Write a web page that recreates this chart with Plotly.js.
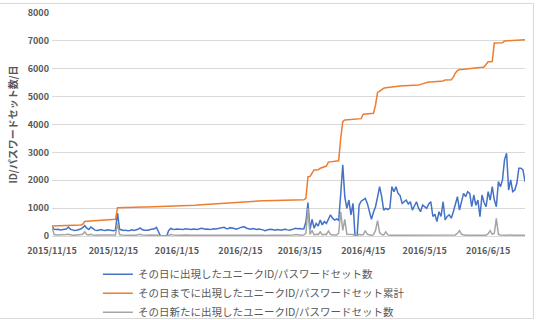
<!DOCTYPE html>
<html>
<head>
<meta charset="utf-8">
<script src="https://cdn.plot.ly/plotly-3.0.1.min.js"></script>
<style>
html,body{margin:0;padding:0;background:#fff;}
#chart{width:536px;height:320px;}
</style>
</head>
<body>
<div id="chart"></div>
<script>
// first day of the daily series and number of days
const startDate = "2015-11-15";
const seriesNames = [
  "その日に出現したユニークID/パスワードセット数",
  "その日までに出現したユニークID/パスワードセット累計",
  "その日新たに出現したユニークID/パスワードセット数"
];
const tickDates = ["2015-11-15","2015-12-15","2016-01-15","2016-02-15","2016-03-15","2016-04-15","2016-05-15","2016-06-15"];
const tickLabels = ["2015/11/15","2015/12/15","2016/1/15","2016/2/15","2016/3/15","2016/4/15","2016/5/15","2016/6/15"];
const yTicks = [0,1000,2000,3000,4000,5000,6000,7000,8000];

// daily unique ID/password sets (blue)
const dailyUnique = [
 360,240,230,240,220,230,240,250,320,240,220,200,210,230,250,300,370,280,230,320,250,210,200,220,230,210,200,220,210,200,190,210,820,
 240,220,200,210,190,200,220,200,210,240,290,230,210,200,210,230,240,260,310,180,0,0,0,0,200,270,240,230,250,240,220,230,260,250,240,230,250,240,230,260,280,260,240,250,230,240,260,250,270,280,300,310,270,260,300,290,270,240,280,300,320,330,280,260,240,270,260,230,250,240,220,190,220,230,240,220,210,230,220,210,230,240,220,210,230,260,280,260,
 270,250,260,500,1200,230,600,280,450,360,570,400,520,450,600,760,640,570,610,560,1500,2550,1400,990,1290,760,1170,0,0,1110,1250,1290,1350,1170,820,600,850,1050,1400,1770,1410,930,990,950,1000,1770,1590,1770,1530,1450,1170,1230,1290,1150,1230,930,1100,1230,1000,870,1110,1050,990,1150,1230,700,780,515,870,700,1230,575,700,755,640,870,1100,1410,930,1200,1530,1410,1590,1530,1050,1470,1100,1290,690,1470,1200,1050,1590,1290,1770,1300,1050,1950,1770,2010,2730,2970,1650,2010,1590,1650,1890,2430,2430,2370,1950
];
// cumulative unique ID/password sets (orange)
const cumulative = [
 360,362,365,368,370,372,375,378,380,383,386,388,390,393,396,420,520,525,530,535,540,545,550,555,560,565,570,575,580,585,590,600,1015,
 1015,1018,1020,1022,1024,1026,1028,1030,1032,1034,1036,1038,1040,1042,1044,1046,1048,1050,1052,1054,1054,1054,1054,1054,1056,1058,1060,1062,1065,1068,1072,1076,1080,1085,1090,1095,1100,1105,1110,1115,1120,1125,1130,1135,1140,1145,1150,1155,1160,1165,1170,1180,1190,1200,1210,1215,1220,1225,1230,1235,1240,1245,1248,1250,1252,1254,1256,1258,1260,1262,1264,1266,1268,1270,1272,1274,1276,1278,1280,1282,1284,1285,1286,1287,1288,1289,1290,1290,
 1290,1295,1300,1350,2130,2135,2250,2370,2372,2375,2430,2466,2480,2510,2650,2655,2660,2665,2670,2700,3500,4100,4160,4165,4170,4175,4180,4185,4190,4200,4210,4370,4375,4380,4385,4390,4400,4700,5150,5200,5260,5300,5320,5330,5340,5350,5360,5380,5382,5384,5386,5388,5390,5392,5394,5396,5400,5410,5420,5440,5460,5480,5520,5522,5524,5526,5528,5530,5532,5534,5560,5600,5602,5604,5606,5700,5850,5930,5970,5975,5980,5990,6000,6010,6020,6025,6030,6035,6040,6050,6060,6150,6250,6255,6260,6920,6922,6925,6928,6930,7000,7005,7010,7020,7030,7032,7034,7036,7038,7039,7040
];
// newly appeared unique ID/password sets (grey)
const newUnique = [
 350,50,40,40,30,40,40,50,60,40,30,30,40,40,40,60,150,50,40,60,40,30,30,40,40,30,30,40,40,30,30,40,450,
 50,40,30,30,30,30,40,30,30,40,60,40,30,30,30,40,40,40,50,30,0,0,0,0,30,50,40,30,40,30,30,40,40,40,30,30,40,30,30,40,50,40,30,40,30,30,40,30,40,40,50,50,40,30,50,40,40,30,40,40,50,50,40,30,30,40,30,30,30,30,30,20,30,30,30,30,20,30,30,20,30,30,30,20,30,40,50,40,
 40,30,40,100,1000,60,200,40,60,50,150,40,60,50,180,60,40,50,40,100,870,200,600,60,50,40,50,0,0,60,40,50,190,60,40,30,40,200,550,120,50,40,150,40,30,40,30,30,40,30,30,30,30,30,40,30,30,30,30,30,40,30,30,30,30,40,30,30,30,30,30,30,40,30,30,30,40,100,190,60,40,30,30,30,40,30,30,30,30,30,30,30,80,190,60,100,635,60,40,30,30,30,40,30,30,30,30,40,30,30,30,30
];

// consecutive daily dates
function dayList(start, n){
  const out = [];
  const t0 = Date.parse(start + "T00:00:00Z");
  for(let i=0;i<n;i++){
    const d = new Date(t0 + i*86400000);
    out.push(d.toISOString().slice(0,10));
  }
  return out;
}
const dates = dayList(startDate, dailyUnique.length);

const FONT = '"Noto Sans CJK JP", "Noto Sans", sans-serif';
const TXT = '#595959';
const GRID = '#d9d9d9';

const traces = [
  {x: dates, y: dailyUnique, name: seriesNames[0], type: 'scatter', mode: 'lines', line: {color: '#4472C4', width: 1.5}},
  {x: dates, y: cumulative, name: seriesNames[1], type: 'scatter', mode: 'lines', line: {color: '#ED7D31', width: 1.5}},
  {x: dates, y: newUnique, name: seriesNames[2], type: 'scatter', mode: 'lines', line: {color: '#A5A5A5', width: 1.5}}
];

const layout = {
  width: 536, height: 320,
  margin: {l: 52, r: 11, t: 13, b: 84, autoexpand: false},
  paper_bgcolor: '#fff', plot_bgcolor: '#fff',
  font: {family: FONT, color: TXT},
  showlegend: true,
  legend: {
    orientation: 'v',
    x: 0.097, xanchor: 'left', y: -0.106, yanchor: 'top',
    font: {family: FONT, size: 10.5, color: TXT},
    itemwidth: 30, tracegroupgap: 0, bgcolor: 'rgba(0,0,0,0)'
  },
  xaxis: {
    type: 'date',
    range: [dates[0], dates[dates.length-1]],
    tickvals: tickDates, ticktext: tickLabels, tickangle: 0,
    showgrid: false, zeroline: false, showline: false,
    ticks: '', ticklen: 0, automargin: false, ticklabelstandoff: 8,
    tickfont: {family: FONT, size: 9, color: TXT, weight: 'bold'},
    fixedrange: true
  },
  yaxis: {
    range: [0, 8000], tickvals: yTicks, automargin: false,
    showgrid: true, gridcolor: GRID, gridwidth: 1,
    zeroline: true, zerolinecolor: GRID, zerolinewidth: 1,
    showline: false, ticks: '', ticklabelstandoff: 2,
    tickfont: {family: FONT, size: 9, color: TXT, weight: 'bold'},
    title: {text: 'ID/パスワードセット数/日', font: {family: FONT, size: 10, color: TXT, weight: 'bold'}, standoff: 8},
    fixedrange: true
  },
  shapes: [
    {type: 'line', xref: 'paper', yref: 'paper', x0: -0.12, x1: 1.018, y0: 1.043, y1: 1.043, line: {color: GRID, width: 1}},
    {type: 'line', xref: 'paper', yref: 'paper', x0: 1.018, x1: 1.018, y0: -0.37, y1: 1.043, line: {color: GRID, width: 1}},
    {type: 'line', xref: 'paper', yref: 'paper', x0: -0.12, x1: 1.018, y0: -0.37, y1: -0.37, line: {color: GRID, width: 1}}
  ]
};

Plotly.newPlot('chart', traces, layout, {displayModeBar: false, staticPlot: true});
</script>
</body>
</html>
